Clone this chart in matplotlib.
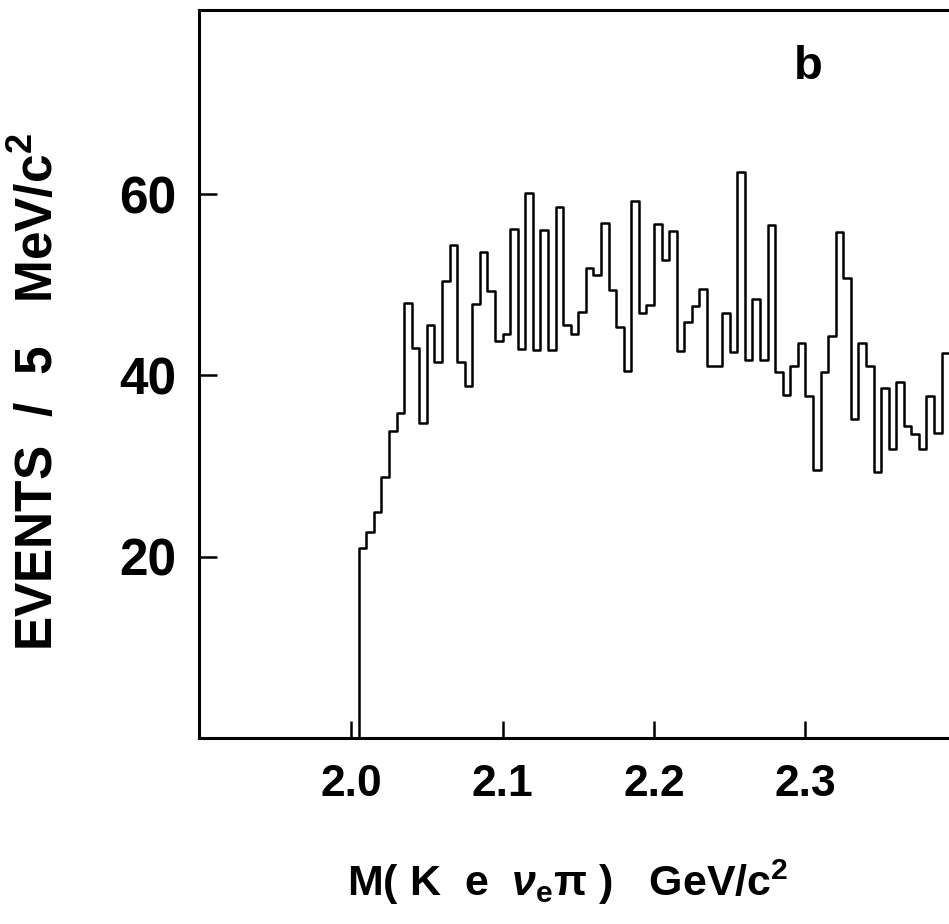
import numpy as np
import matplotlib
matplotlib.use("Agg")
import matplotlib.pyplot as plt

# events per 5 MeV/c^2 bin, first bin starts at 2.005 GeV/c^2
bin_start = 2.005
bin_width = 0.005
counts = [
    21.0, 22.7, 24.9, 28.8, 33.9, 35.9, 48.0, 43.0, 34.8, 45.6,
    41.5, 50.4, 54.4, 41.5, 38.8, 47.9, 53.6, 49.3, 43.8, 44.6,
    56.2, 42.9, 60.1, 42.8, 56.1, 42.8, 58.6, 45.6, 44.6, 47.0,
    51.9, 51.1, 56.8, 49.4, 45.4, 40.5, 59.2, 46.9, 47.8, 56.7,
    52.7, 55.9, 42.7, 45.9, 47.7, 49.5, 41.1, 41.1, 46.9, 42.6,
    62.5, 41.7, 48.4, 41.7, 56.6, 40.4, 37.9, 41.1, 43.6, 37.7,
    29.6, 40.4, 44.4, 55.8, 50.8, 35.2, 43.6, 41.0, 29.4, 38.6,
    31.9, 39.3, 34.4, 33.5, 31.9, 37.7, 33.6, 42.5,
]

x_ticks = [2.0, 2.1, 2.2, 2.3]
x_tick_labels = ["2.0", "2.1", "2.2", "2.3"]
y_ticks = [20, 40, 60]
y_tick_labels = ["20", "40", "60"]

plt.rcParams["font.family"] = ["Liberation Sans", "DejaVu Sans"]
plt.rcParams["font.weight"] = "bold"
plt.rcParams["mathtext.fontset"] = "custom"
plt.rcParams["mathtext.rm"] = "Liberation Sans:bold"
plt.rcParams["mathtext.it"] = "Liberation Sans:bold:italic"
plt.rcParams["mathtext.bf"] = "Liberation Sans:bold"


def main():
    values = np.array(counts)
    edges = bin_start + bin_width * np.arange(len(values) + 1)

    # step outline: drop to zero on the left, open on the right (cut by the frame)
    xs = np.concatenate([[edges[0]], edges])
    ys = np.concatenate([[0.0], values, [values[-1]]])

    fig = plt.figure(figsize=(9.49, 9.24), dpi=100)
    ax = fig.add_axes([0.2097, 0.2013, 0.7953, 0.7876])

    ax.step(xs, ys, where="post", color="black", linewidth=1.8)

    ax.set_xlim(1.8995, 2.398)
    ax.set_ylim(0, 80.3)

    ax.set_xticks(x_ticks)
    ax.set_xticklabels(x_tick_labels)
    ax.set_yticks(y_ticks)
    ax.set_yticklabels(y_tick_labels)

    ax.tick_params(axis="x", direction="in", length=12, width=1.8,
                   pad=19, labelsize=32)
    ax.tick_params(axis="y", direction="in", length=13, width=1.8,
                   pad=16, labelsize=37)
    for lbl in ax.get_xticklabels() + ax.get_yticklabels():
        lbl.set_fontweight("bold")

    for side in ["left", "bottom", "top"]:
        ax.spines[side].set_linewidth(2.2)
    ax.spines["right"].set_visible(False)

    ax.text(0.808, 0.905, "b", transform=ax.transAxes, fontsize=34,
            fontweight="bold", ha="center", va="baseline")

    fig.text(0.041, 0.576, "EVENTS  /  5   MeV/c$^2$", rotation=90,
             fontsize=37, fontweight="bold", ha="center", va="center")
    fig.text(0.598, 0.030,
             r"M( K  e  $\nu_\mathrm{e}\mathrm{\pi}$ )   GeV/c$^2$",
             fontsize=31, fontweight="bold", ha="center", va="baseline")

    fig.savefig("out.png", dpi=100)


if __name__ == "__main__":
    main()
